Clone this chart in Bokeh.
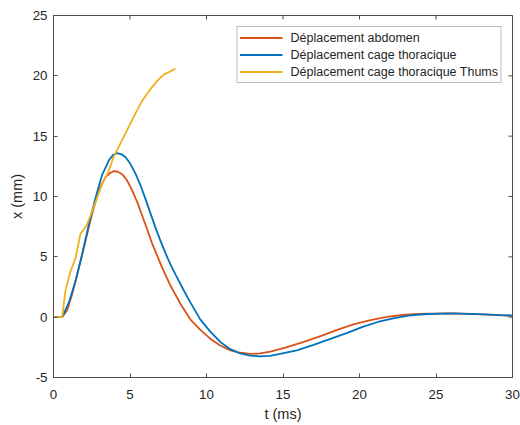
import math
from bokeh.plotting import figure
from bokeh.models import FixedTicker, Range1d, Legend, LegendItem
from bokeh.embed import file_html
from bokeh.resources import INLINE

# --- data ---
t_abdomen = [0, 0.57, 0.9, 1.22, 1.66, 2.09, 2.53, 2.96, 3.4, 3.7, 3.94, 4.2, 4.49, 4.8,
             5.14, 5.5, 5.8, 6.45, 7.1, 7.65, 8.3, 8.95, 9.6, 10.26, 10.9, 11.57, 12.2,
             12.88, 13.5, 14.18, 15.2, 16.36, 17.5, 18.54, 19.6, 20.72, 21.8, 22.8, 23.8,
             24.85, 26, 27, 28, 29, 30]
x_abdomen = [0, 0, 0.6, 1.9, 4.1, 6.3, 8.6, 10.5, 11.6, 11.95, 12.1, 12.05, 11.85, 11.35,
             10.5, 9.45, 8.4, 6.1, 4.1, 2.6, 1.1, -0.2, -1.05, -1.8, -2.35, -2.75, -2.95,
             -3.05, -3.0, -2.85, -2.5, -2.05, -1.55, -1.05, -0.6, -0.25, 0.02, 0.18, 0.27,
             0.3, 0.31, 0.28, 0.23, 0.17, 0.12]

t_cage = [0, 0.57, 1.0, 1.44, 1.87, 2.31, 2.75, 3.18, 3.62, 3.9, 4.16, 4.45, 4.71, 5.0,
          5.36, 5.68, 6.01, 6.34, 6.67, 7.0, 7.32, 7.65, 7.97, 8.5, 9.0, 9.6, 10.25, 10.9,
          11.55, 12.2, 12.85, 13.5, 14.15, 14.8, 15.9, 17.0, 18.1, 19.2, 20.2, 21.2, 22.2,
          23.2, 24.2, 25.2, 26.2, 27.2, 28.2, 29.2, 30]
x_cage = [0, 0, 1.2, 3.0, 5.2, 7.7, 9.9, 11.8, 13.0, 13.45, 13.6, 13.5, 13.25, 12.75,
          11.9, 10.95, 9.8, 8.6, 7.4, 6.3, 5.3, 4.35, 3.55, 2.25, 1.1, -0.2, -1.2, -2.05,
          -2.65, -3.0, -3.18, -3.25, -3.2, -3.05, -2.75, -2.3, -1.8, -1.3, -0.8, -0.4, -0.1,
          0.12, 0.24, 0.3, 0.31, 0.28, 0.23, 0.17, 0.13]

t_thums = [0, 0.57, 0.78, 1.11, 1.44, 1.6, 1.76, 2.0, 2.2, 2.53, 2.85, 3.18, 3.57, 3.94,
           4.49, 4.85, 5.24, 5.78, 6.1, 6.4, 6.8, 7.2, 7.6, 7.97]
x_thums = [0, 0, 2.2, 3.8, 4.9, 5.9, 6.9, 7.3, 7.7, 8.8, 9.9, 11.05, 12.0, 13.3,
           14.7, 15.6, 16.6, 17.9, 18.5, 19.0, 19.6, 20.1, 20.35, 20.6]

series_labels = ["Déplacement abdomen", "Déplacement cage thoracique",
                 "Déplacement cage thoracique Thums"]
series_colors = ["#D95319", "#0072BD", "#EDB120"]

x_ticks = [0, 5, 10, 15, 20, 25, 30]
x_tick_labels = ["0", "5", "10", "15", "20", "25", "30"]
y_ticks = [-5, 0, 5, 10, 15, 20, 25]
y_tick_labels = ["-5", "0", "5", "10", "15", "20", "25"]

FONT = "Liberation Sans"
TXT = "#262626"
AX = "#4d4d4d"

p = figure(width=520, height=425,
           x_range=Range1d(x_ticks[0], x_ticks[-1]), y_range=Range1d(y_ticks[0], y_ticks[-1]),
           output_backend="svg", toolbar_location=None,
           min_border_left=53, min_border_right=8, min_border_top=15, min_border_bottom=48,
           x_axis_label="t (ms)", y_axis_label="x (mm)")
p.xgrid.visible = False
p.ygrid.visible = False
p.outline_line_color = AX
p.outline_line_width = 1
p.background_fill_color = "white"
p.border_fill_color = "white"


def style_axis(ax, ticks, labels):
    ax.ticker = FixedTicker(ticks=ticks)
    ax.major_label_overrides = {t: l for t, l in zip(ticks, labels)}
    ax.minor_tick_line_color = None
    ax.major_tick_in = 4
    ax.major_tick_out = 0
    ax.axis_line_color = AX
    ax.axis_line_width = 1
    ax.major_tick_line_color = AX
    ax.major_label_text_font = FONT
    ax.major_label_text_color = TXT
    ax.major_label_text_font_size = "13.3px"
    ax.axis_label_text_font = FONT
    ax.axis_label_text_color = TXT
    ax.axis_label_text_font_style = "normal"
    ax.axis_label_text_font_size = "14.5px"


style_axis(p.xaxis[0], x_ticks, x_tick_labels)
p.xaxis[0].major_label_standoff = 12
p.xaxis[0].axis_label_standoff = 4
style_axis(p.yaxis[0], y_ticks, y_tick_labels)
p.yaxis[0].major_label_standoff = 6
p.yaxis[0].axis_label_standoff = 5

# inward ticks on the top and right edges of the box (clipped to the frame)
p.scatter(x=x_ticks, y=[y_ticks[-1]] * len(x_ticks), marker="dash", angle=math.pi / 2,
          size=8, line_color=AX, line_width=1)
p.scatter(x=[x_ticks[-1]] * len(y_ticks), y=y_ticks, marker="dash", angle=0,
          size=8, line_color=AX, line_width=1)

r1 = p.line(t_abdomen, x_abdomen, line_color=series_colors[0], line_width=1.8)
r2 = p.line(t_cage, x_cage, line_color=series_colors[1], line_width=1.8)
r3 = p.line(t_thums, x_thums, line_color=series_colors[2], line_width=1.8)

legend = Legend(items=[LegendItem(label=series_labels[0], renderers=[r1]),
                       LegendItem(label=series_labels[1], renderers=[r2]),
                       LegendItem(label=series_labels[2], renderers=[r3])],
                location="top_right")
legend.margin = 11
legend.padding = 2
legend.spacing = 0
legend.glyph_width = 43
legend.glyph_height = 17
legend.label_height = 17
legend.label_standoff = 8
legend.label_text_font = FONT
legend.label_text_font_size = "12.5px"
legend.label_text_color = TXT
legend.border_line_color = "#7a7a7a"
legend.border_line_width = 1
legend.background_fill_color = "white"
legend.background_fill_alpha = 1
p.add_layout(legend)

open("out.html", "w").write(file_html(p, INLINE))
